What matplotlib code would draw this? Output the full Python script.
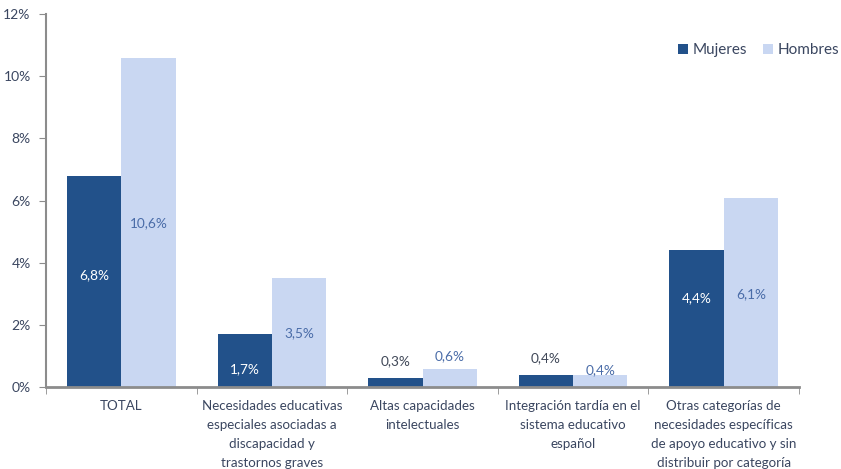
import matplotlib
matplotlib.use("Agg")
import matplotlib.pyplot as plt
import numpy as np
from matplotlib.ticker import FuncFormatter, FixedLocator

plt.rcParams['font.family'] = ['Lato', 'DejaVu Sans']

categories = [
    "TOTAL",
    "Necesidades educativas\nespeciales asociadas a\ndiscapacidad y\ntrastornos graves",
    "Altas capacidades\nintelectuales",
    "Integración tardía en el\nsistema educativo\nespañol",
    "Otras categorías de\nnecesidades específicas\nde apoyo educativo y sin\ndistribuir por categoría",
]
mujeres = [6.8, 1.7, 0.3, 0.4, 4.4]
hombres = [10.6, 3.5, 0.6, 0.4, 6.1]
mujeres_labels = ["6,8%", "1,7%", "0,3%", "0,4%", "4,4%"]
hombres_labels = ["10,6%", "3,5%", "0,6%", "0,4%", "6,1%"]
# label vertical positions (data units) as placed in the original
mujeres_label_y = [3.62, 0.58, 0.85, 0.93, 2.87]
hombres_label_y = [5.27, 1.74, 0.99, 0.56, 3.0]
mujeres_label_inside = [True, True, False, False, True]
yticks = [0, 2, 4, 6, 8, 10, 12]

c_m = "#22518A"
c_h = "#C9D7F2"
txt = "#3A4660"
spine_c = "#8C8C8C"

fig = plt.figure(figsize=(8.41, 4.69), dpi=100)
ax = fig.add_axes([46/841, 1-387.3/469, (799-46)/841, (387.3-14)/469])

x = np.arange(len(categories))
w = 0.36
ax.bar(x - w/2, mujeres, w, color=c_m, label="Mujeres", zorder=2)
ax.bar(x + w/2, hombres, w, color=c_h, label="Hombres", zorder=2)

for i in range(len(categories)):
    ax.text(x[i] - w/2, mujeres_label_y[i], mujeres_labels[i], ha="center", va="center",
            fontsize=9.8, color="white" if mujeres_label_inside[i] else "#404858")
    ax.text(x[i] + w/2, hombres_label_y[i], hombres_labels[i], ha="center", va="center",
            fontsize=9.8, color="#4A6CA8")

ax.set_xlim(-0.5, len(categories) - 0.5)
ax.set_ylim(0, 12)
ax.set_yticks(yticks)
ax.yaxis.set_major_formatter(FuncFormatter(lambda v, p: f"{int(v)}%"))
ax.set_xticks(x)
ax.set_xticklabels(categories, fontsize=9.6, color=txt, linespacing=1.72, va="top")
ax.xaxis.set_minor_locator(FixedLocator(np.arange(-0.5, len(categories), 1.0)))
ax.tick_params(axis="x", which="major", length=0, pad=9)
ax.tick_params(axis="x", which="minor", length=5, color=spine_c, direction="out")
ax.tick_params(axis="y", length=5, color=spine_c, labelsize=10, labelcolor=txt, pad=6)

for s in ["top", "right"]:
    ax.spines[s].set_visible(False)
ax.spines["left"].set_color(spine_c)
ax.spines["left"].set_linewidth(1.5)
ax.spines["bottom"].set_color(spine_c)
ax.spines["bottom"].set_linewidth(2)

leg = ax.legend(loc="upper right", bbox_to_anchor=(1.072, 0.958), ncol=2, frameon=False,
                fontsize=11, handlelength=0.7, handleheight=0.7, handletextpad=0.3,
                columnspacing=1.0, labelcolor=txt)

fig.savefig("out.png", dpi=100)
